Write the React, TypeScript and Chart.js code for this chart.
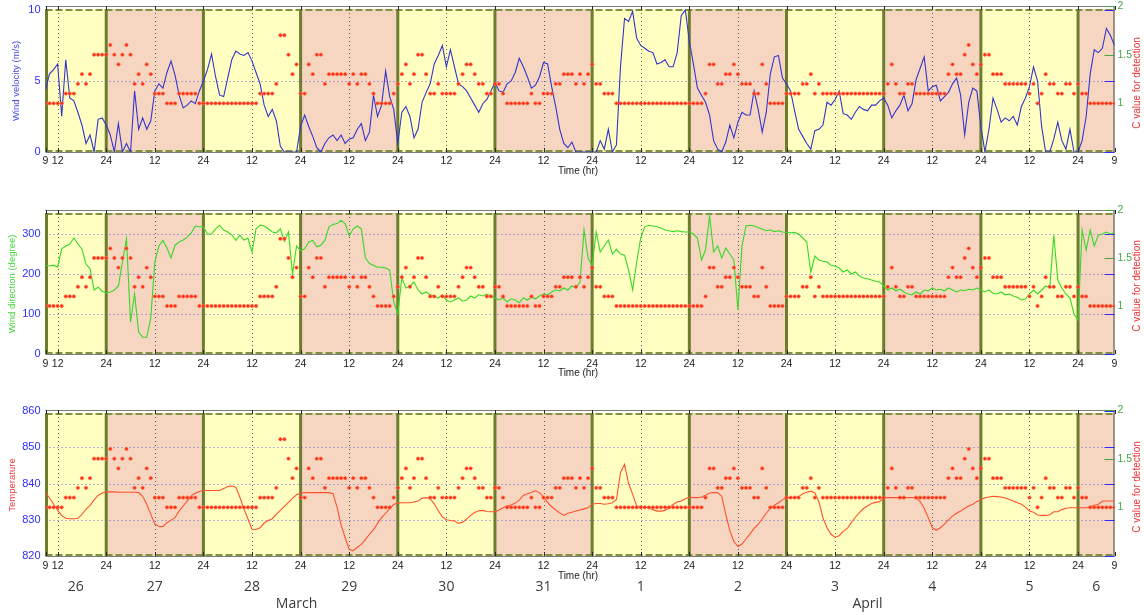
import React, { useEffect, useRef } from "react";
import { Chart, registerables } from "chart.js";

Chart.register(...registerables);

// Hours are counted from 26 March 09:00; the record ends on 6 April 09:00.
const HOUR_MAX = 264;

// Day bands (edges in hours) and their labels
const dayEdges = [0, 15, 39, 63, 87, 111, 135, 159, 183, 207, 231, 255, 264];
const dayLabels = ["26", "27", "28", "29", "30", "31", "1", "2", "3", "4", "5", "6"];
const monthLabels = ["March", "April"];
const monthAtHour = [62, 203];

// Time axis ticks
const tickHours = [0, 3, 15, 27, 39, 51, 63, 75, 87, 99, 111, 123, 135, 147, 159, 171, 183, 195, 207, 219, 231, 243, 255, 264];
const tickText = ["9", "12", "24", "12", "24", "12", "24", "12", "24", "12", "24", "12", "24", "12", "24", "12", "24", "12", "24", "12", "24", "12", "24", "9"];

// Hourly wind velocity (m/s)
const windSpeed = [
  4.4, 5.5, 5.8, 6.2, 2.5, 6.5, 3.8, 3.6, 2.8, 1.9, 0.6, 1.2, 0, 2.3, 2.4,
  1.9, 1.2, 0, 2.0, 0, 0.6, 0, 4.3, 1.6, 2.4, 1.6, 2.2, 4.3, 4.8, 4.5, 5.6, 6.4, 5.4, 4.0, 3.1, 3.3, 3.6, 3.4, 4.3,
  5.0, 5.8, 6.9, 5.3, 4.0, 3.9, 5.2, 6.5, 7.1, 6.9, 6.8, 7.0, 6.4, 5.6, 4.8, 3.3, 2.5, 3.0, 2.2, 0.4, 0, 0, 0, 0,
  1.8, 2.6, 1.8, 1.1, 0.3, 0, 0.6, 1.0, 1.2, 0.8, 1.2, 0.6, 0.9, 1.0, 1.6, 2.0, 0.8, 1.4, 4.0, 2.5, 3.3, 5.7, 3.9, 3.0,
  0.6, 2.8, 3.2, 2.5, 1.0, 1.6, 3.5, 4.2, 4.8, 6.2, 6.8, 7.5, 6.0, 7.2, 6.0, 4.8, 4.6, 4.3, 3.8, 3.3, 2.8, 3.4, 3.7, 4.3,
  4.9, 4.3, 4.2, 4.8, 5.0, 5.6, 6.6, 6.0, 5.3, 4.5, 4.7, 5.3, 6.3, 6.2, 4.6, 3.2, 1.6, 0.6, 0.3, 0.7, 0, 0, 0, 0,
  0, 0, 0.8, 0.2, 1.6, 0, 0.5, 6.0, 9.4, 9.2, 9.9, 8.0, 7.5, 7.3, 7.1, 7.0, 6.2, 6.3, 6.5, 6.0, 6.0, 7.0, 9.6, 10,
  7.8, 6.2, 4.5, 4.0, 3.5, 2.6, 0.8, 0.2, 0, 0.7, 1.9, 1.0, 2.1, 2.8, 2.6, 2.6, 4.3, 3.0, 1.4, 2.8, 5.5, 6.7, 6.8, 5.2,
  4.8, 4.3, 2.9, 1.6, 1.1, 0.6, 0.2, 1.5, 1.6, 1.9, 3.5, 3.3, 3.7, 4.3, 2.7, 2.6, 2.3, 2.8, 3.2, 3.0, 2.9, 3.3, 3.3, 3.6,
  3.8, 3.3, 2.4, 2.9, 3.3, 4.0, 2.9, 3.4, 5.1, 5.9, 6.7, 4.3, 4.6, 4.7, 3.6, 3.9, 4.2, 4.8, 5.2, 4.0, 1.2, 3.5, 4.5, 4.3,
  1.8, 0, 1.6, 3.8, 3.0, 2.1, 2.4, 2.2, 2.5, 1.9, 3.2, 3.8, 4.6, 6.0, 5.0, 1.8, 0, 0, 0.9, 2.1, 0.8, 0.2, 1.6, 0,
  0, 0.8, 2.5, 5.5, 7.2, 7.0, 7.3, 8.7, 8.2, 7.5,
];

// Hourly wind direction (degree)
const windDirection = [
  222, 220, 222, 217, 263, 270, 275, 290, 275, 262, 225, 213, 160, 167, 157,
  152, 155, 160, 170, 230, 288, 80, 150, 55, 42, 42, 90, 230, 270, 284, 265, 240, 272, 280, 285, 292, 303, 320, 318,
  318, 300, 300, 313, 322, 310, 305, 298, 284, 297, 285, 290, 255, 313, 322, 320, 313, 305, 303, 313, 282, 305, 200, 270,
  258, 263, 280, 284, 268, 272, 284, 318, 324, 326, 334, 326, 295, 313, 320, 313, 240, 226, 222, 217, 217, 215, 210, 130,
  100, 190, 165, 170, 180, 160, 150, 155, 148, 145, 140, 148, 135, 130, 135, 140, 132, 135, 145, 140, 148, 145, 150, 145,
  140, 135, 140, 130, 138, 135, 128, 140, 135, 142, 138, 145, 150, 148, 155, 160, 158, 165, 160, 170, 165, 180, 310, 240,
  220, 305, 255, 270, 285, 250, 262, 250, 247, 210, 160, 230, 290, 318, 322, 320, 318, 315, 310, 308, 306, 308, 306, 305,
  305, 300, 290, 235, 260, 345, 255, 270, 240, 265, 250, 235, 110, 270, 320, 322, 320, 316, 312, 308, 310, 306, 308, 305,
  304, 303, 304, 300, 290, 280, 205, 245, 235, 232, 230, 222, 220, 215, 205, 210, 200, 205, 195, 190, 188, 185, 182, 180,
  170, 160, 165, 158, 162, 155, 150, 148, 155, 150, 160, 158, 165, 160, 162, 158, 165, 160, 155, 160, 158, 162, 160, 165,
  160, 155, 160, 152, 150, 155, 148, 150, 145, 142, 135, 138, 150, 160, 150, 160, 170, 165, 297, 184, 165, 150, 140, 100,
  85, 310, 260, 310, 270, 297, 300, 305, 300, 304,
];

// Hourly temperature reading
const temperature = [
  837.5, 836, 834.3, 832.6, 831.2, 830.4, 830.3, 830.3, 830.4, 831.5, 832.9, 834, 835.5, 836.7, 837.4,
  837.7, 837.7, 837.7, 837.6, 837.6, 837.6, 837.6, 837.6, 837.5, 836.5, 834.3, 831.5, 828.8, 828.2, 828.1, 829.2, 829.9, 830.6, 832.4, 833.8, 835.2, 836.6, 837.3, 837.8,
  838.1, 838.1, 838.1, 838.1, 838.1, 838.6, 839.2, 839.3, 839, 836.2, 833, 830.2, 827.4, 827.3, 827.8, 829.1, 829.8, 830.3, 831.5, 832.6, 833.7, 834.8, 835.9, 836.9,
  837.4, 837.5, 837.5, 837.5, 837.5, 837.5, 837.5, 837.5, 837.2, 833.5, 828.5, 825.1, 821.8, 821.5, 822.4, 823.2, 824.5, 826, 827.3, 829, 830.6, 831.8, 833.1, 834.2,
  834.6, 834.7, 834.7, 834.7, 834.9, 835.2, 835.9, 836.1, 835.8, 834.4, 832.5, 830.8, 830, 829.8, 829.7, 829, 829.3, 830.2, 831.2, 832, 832.5, 832.6, 832.3, 832.2,
  832.2, 832.7, 833.3, 833.8, 834.1, 834.6, 835.4, 836.7, 837.2, 837.5, 838, 837.5, 836.2, 834.8, 833.6, 832.7, 831.9, 831.2, 831.8, 832.1, 832.4, 832.7, 833, 833.3,
  834.3, 834.5, 834.5, 834.3, 834.4, 834.7, 835.6, 843, 845.3, 840, 837, 833.8, 833.6, 833.5, 833.3, 832.8, 832.4, 832.4, 832.6, 833.3, 834.2, 834.9, 835.2, 835.8,
  836.2, 836.1, 836.1, 836.3, 836.8, 837.4, 837.5, 837.5, 836.5, 831.5, 827, 824, 822.6, 823.3, 824.7, 826.1, 827.6, 828.7, 830.2, 831.8, 833.2, 834, 834.7, 835.5,
  836.1, 836.1, 836.1, 836.4, 837.2, 837.6, 837.9, 837.4, 835, 830.5, 827.8, 826, 825.2, 825.6, 826.8, 827.6, 829.2, 830.7, 832, 833.1, 833.8, 834.5, 834.8, 835,
  836.1, 836.1, 836.1, 836.1, 836.1, 836.1, 836.1, 836.1, 836.1, 835, 833.2, 830.6, 827.8, 827.1, 827.8, 828.8, 830, 831, 831.8, 832.4, 833.2, 833.8, 834.3, 835,
  835.6, 836.1, 836.3, 836.5, 836.4, 836.3, 836, 835.6, 835.2, 834.7, 834.3, 833.5, 832.4, 832.1, 831.3, 831.2, 831.2, 831.4, 832.2, 832.2, 832.8, 833.2, 833.3, 833.3,
  833.3, 833.3, 833.3, 833.6, 834, 834.3, 835.1, 835.2, 835.2, 835.2,
];

// Hourly C value for detection (shared by all three panels)
const cValue = [
  1.0, 1.0, 1.0, 1.0, 1.0, 1.1, 1.1, 1.1, 1.2, 1.3, 1.2, 1.3, 1.5, 1.5, 1.5,
  1.5, 1.6, 1.5, 1.4, 1.5, 1.6, 1.5, 1.2, 1.3, 1.2, 1.4, 1.3, 1.1, 1.1, 1.1, 1.0, 1.0, 1.0, 1.1, 1.1, 1.1, 1.1, 1.1, 1.0,
  1.0, 1.0, 1.0, 1.0, 1.0, 1.0, 1.0, 1.0, 1.0, 1.0, 1.0, 1.0, 1.0, 1.0, 1.1, 1.1, 1.1, 1.1, 1.2, 1.7, 1.7, 1.5, 1.3, 1.4,
  1.1, 1.1, 1.4, 1.3, 1.5, 1.5, 1.2, 1.3, 1.3, 1.3, 1.3, 1.3, 1.2, 1.3, 1.2, 1.3, 1.3, 1.2, 1.1, 1.0, 1.0, 1.0, 1.0, 1.1,
  1.2, 1.3, 1.4, 1.2, 1.3, 1.5, 1.5, 1.3, 1.1, 1.1, 1.2, 1.1, 1.1, 1.1, 1.1, 1.2, 1.3, 1.4, 1.4, 1.3, 1.2, 1.2, 1.1, 1.1,
  1.2, 1.2, 1.1, 1.0, 1.0, 1.0, 1.0, 1.0, 1.0, 1.1, 1.0, 1.0, 1.1, 1.1, 1.1, 1.2, 1.2, 1.3, 1.3, 1.3, 1.2, 1.3, 1.2, 1.3,
  1.4, 1.2, 1.2, 1.1, 1.1, 1.1, 1.0, 1.0, 1.0, 1.0, 1.0, 1.0, 1.0, 1.0, 1.0, 1.0, 1.0, 1.0, 1.0, 1.0, 1.0, 1.0, 1.0, 1.0,
  1.0, 1.0, 1.0, 1.0, 1.1, 1.4, 1.4, 1.2, 1.2, 1.3, 1.3, 1.4, 1.3, 1.2, 1.2, 1.2, 1.1, 1.1, 1.4, 1.2, 1.0, 1.0, 1.0, 1.0,
  1.1, 1.1, 1.1, 1.1, 1.2, 1.2, 1.3, 1.1, 1.2, 1.1, 1.1, 1.1, 1.1, 1.1, 1.1, 1.1, 1.1, 1.1, 1.1, 1.1, 1.1, 1.1, 1.1, 1.1,
  1.1, 1.2, 1.4, 1.2, 1.1, 1.1, 1.2, 1.2, 1.1, 1.1, 1.1, 1.1, 1.1, 1.1, 1.1, 1.1, 1.3, 1.4, 1.3, 1.3, 1.5, 1.6, 1.4, 1.3,
  1.4, 1.5, 1.5, 1.3, 1.3, 1.3, 1.2, 1.2, 1.2, 1.2, 1.2, 1.2, 1.1, 1.2, 1.0, 1.1, 1.3, 1.2, 1.2, 1.1, 1.1, 1.2, 1.2, 1.1,
  1.2, 1.1, 1.1, 1.0, 1.0, 1.0, 1.0, 1.0, 1.0, 1.0,
];

const cTicks = [1, 1.5, 2];

const BAND_FILL = ["rgb(255,255,194)", "rgb(246,214,192)"];
const OLIVE = "rgb(108,126,46)";
const OLIVE_LIGHT = "rgb(128,146,66)";
const LEFT_TICK_BLUE = "rgb(45,45,255)";
const RIGHT_GREEN = "rgb(70,165,70)";
const C_RED = "rgb(255,40,30)";
const FONT = "'Liberation Sans', Arial, sans-serif";

type PanelCfg = {
  id: string;
  top: number;
  height: number;
  plotTop: number;
  plotBottom: number;
  values: number[];
  lineColor: string;
  yMin: number;
  yMax: number;
  yTicks: number[];
  yGrid: number[];
  title: string;
  titleColor: string;
  titleX: number;
  xPad: number;
  timeLabelY: number;
  showDays: boolean;
};

const panels: PanelCfg[] = [
  {
    id: "speed", top: 0, height: 190, plotTop: 6, plotBottom: 152,
    values: windSpeed, lineColor: "rgb(52,52,205)",
    yMin: 0, yMax: 10.28, yTicks: [0, 5, 10], yGrid: [5],
    title: "Wind velocity (m/s)", titleColor: "rgb(70,70,235)", titleX: 16,
    xPad: 3, timeLabelY: 171, showDays: false,
  },
  {
    id: "direction", top: 195, height: 190, plotTop: 15, plotBottom: 159,
    values: windDirection, lineColor: "rgb(55,215,40)",
    yMin: 0, yMax: 360, yTicks: [0, 100, 200, 300], yGrid: [100, 200, 300],
    title: "Wind direction (degree)", titleColor: "rgb(70,215,60)", titleX: 12,
    xPad: 4, timeLabelY: 178, showDays: false,
  },
  {
    id: "temperature", top: 395, height: 220, plotTop: 15, plotBottom: 161,
    values: temperature, lineColor: "rgb(255,80,45)",
    yMin: 820, yMax: 860.3, yTicks: [820, 830, 840, 850, 860], yGrid: [830, 840, 850],
    title: "Temperature", titleColor: "rgb(240,60,60)", titleX: 12,
    xPad: 4, timeLabelY: 181, showDays: true,
  },
];

function verticalText(ctx: CanvasRenderingContext2D, text: string, x: number, y: number, color: string, font: string) {
  ctx.save();
  ctx.translate(x, y);
  ctx.rotate(-Math.PI / 2);
  ctx.textAlign = "center";
  ctx.textBaseline = "middle";
  ctx.fillStyle = color;
  ctx.font = font;
  ctx.fillText(text, 0, 0);
  ctx.restore();
}

function makeDecor(cfg: PanelCfg) {
  return {
    id: "panelDecor",
    beforeDatasetsDraw(chart: any) {
      const { ctx, chartArea: a, scales } = chart;
      const x = scales.x;
      const y = scales.y;
      const yr = scales.yR;
      const bandTop = a.top + 3;
      ctx.save();

      // day bands
      for (let i = 0; i < dayEdges.length - 1; i++) {
        const x0 = x.getPixelForValue(dayEdges[i]);
        const x1 = x.getPixelForValue(dayEdges[i + 1]);
        ctx.fillStyle = BAND_FILL[i % 2];
        ctx.fillRect(x0, bandTop, x1 - x0, a.bottom - bandTop);
      }

      // dotted horizontal grid
      ctx.lineWidth = 1;
      ctx.setLineDash([1, 3]);
      ctx.strokeStyle = "rgb(105,105,235)";
      for (const v of cfg.yGrid) {
        const py = Math.round(y.getPixelForValue(v)) + 0.5;
        ctx.beginPath();
        ctx.moveTo(a.left, py);
        ctx.lineTo(a.right, py);
        ctx.stroke();
      }

      // dotted vertical grid at noon
      ctx.strokeStyle = "rgba(70,70,70,0.85)";
      tickHours.forEach((h, i) => {
        if (tickText[i] !== "12") return;
        const px = Math.round(x.getPixelForValue(h)) + 0.5;
        ctx.beginPath();
        ctx.moveTo(px, bandTop);
        ctx.lineTo(px, a.bottom);
        ctx.stroke();
      });

      // band outlines: dashed top and bottom, heavy day separators
      ctx.setLineDash([7, 3]);
      ctx.lineWidth = 2;
      ctx.strokeStyle = OLIVE_LIGHT;
      ctx.beginPath();
      ctx.moveTo(a.left, bandTop + 1);
      ctx.lineTo(a.right, bandTop + 1);
      ctx.moveTo(a.left, a.bottom - 1);
      ctx.lineTo(a.right, a.bottom - 1);
      ctx.stroke();
      ctx.setLineDash([]);
      ctx.lineWidth = 3;
      ctx.strokeStyle = OLIVE;
      for (let i = 0; i < dayEdges.length - 1; i++) {
        const px = x.getPixelForValue(dayEdges[i]) + (i === 0 ? 1 : 0);
        ctx.beginPath();
        ctx.moveTo(px, bandTop);
        ctx.lineTo(px, a.bottom);
        ctx.stroke();
      }

      // axis box
      ctx.lineWidth = 1;
      ctx.strokeStyle = "rgb(125,125,125)";
      ctx.beginPath();
      ctx.moveTo(a.left, a.top + 0.5);
      ctx.lineTo(a.right, a.top + 0.5);
      ctx.moveTo(a.left, a.bottom + 0.5);
      ctx.lineTo(a.right, a.bottom + 0.5);
      ctx.stroke();
      ctx.strokeStyle = "rgb(70,70,70)";
      ctx.beginPath();
      ctx.moveTo(a.right - 0.5, a.top);
      ctx.lineTo(a.right - 0.5, a.bottom);
      ctx.stroke();

      // time ticks on top and bottom edges
      ctx.strokeStyle = "rgb(40,40,40)";
      ctx.beginPath();
      for (const h of tickHours) {
        const px = Math.round(x.getPixelForValue(h)) + 0.5;
        ctx.moveTo(px, a.top);
        ctx.lineTo(px, a.top + 4);
        ctx.moveTo(px, a.bottom);
        ctx.lineTo(px, a.bottom - 4);
      }
      ctx.stroke();

      // left-axis ticks mirrored on the right edge, then the C-axis ticks
      ctx.strokeStyle = LEFT_TICK_BLUE;
      ctx.beginPath();
      for (const v of cfg.yTicks) {
        const py = Math.round(y.getPixelForValue(v)) + 0.5;
        ctx.moveTo(a.right - 10, py);
        ctx.lineTo(a.right, py);
      }
      ctx.stroke();
      ctx.strokeStyle = RIGHT_GREEN;
      ctx.beginPath();
      for (const v of cTicks) {
        const py = Math.round(yr.getPixelForValue(v)) + 0.5;
        ctx.moveTo(a.right - 10, py);
        ctx.lineTo(a.right, py);
      }
      ctx.stroke();
      ctx.restore();
    },
    afterDraw(chart: any) {
      const { ctx, chartArea: a, scales } = chart;
      const x = scales.x;
      const midY = (a.top + a.bottom) / 2;
      verticalText(ctx, cfg.title, cfg.titleX, midY + 2, cfg.titleColor, `9.5px ${FONT}`);
      verticalText(ctx, "C value for detection", 1137, midY + 4, "rgb(240,50,50)", `10px ${FONT}`);
      ctx.save();
      ctx.fillStyle = "#222";
      ctx.font = `10px ${FONT}`;
      ctx.textAlign = "center";
      ctx.textBaseline = "middle";
      ctx.fillText("Time (hr)", 578, cfg.timeLabelY);
      if (cfg.showDays) {
        ctx.font = "14px 'Open Sans', 'Noto Sans', sans-serif";
        ctx.fillStyle = "#3a3a3a";
        for (let i = 0; i < dayLabels.length; i++) {
          const cx = (x.getPixelForValue(dayEdges[i]) + x.getPixelForValue(dayEdges[i + 1])) / 2;
          ctx.fillText(dayLabels[i], cx, 192);
        }
        monthLabels.forEach((m, i) => {
          ctx.fillText(m, x.getPixelForValue(monthAtHour[i]), 209);
        });
      }
      ctx.restore();
    },
  };
}

function Panel({ cfg }: { cfg: PanelCfg }) {
  const ref = useRef<HTMLCanvasElement | null>(null);

  useEffect(() => {
    if (!ref.current) return;
    const xHeight = cfg.height - cfg.plotBottom;
    const chart = new Chart(ref.current, {
      type: "line",
      data: {
        datasets: [
          {
            label: "C value",
            data: cValue.map((v, i) => ({ x: i, y: v })),
            yAxisID: "yR",
            showLine: false,
            pointRadius: 1.7,
            pointBackgroundColor: C_RED,
            pointBorderColor: "rgba(255,120,70,0.85)",
            pointBorderWidth: 0.8,
          },
          {
            label: cfg.title,
            data: cfg.values.map((v, i) => ({ x: i, y: v })),
            yAxisID: "y",
            borderColor: cfg.lineColor,
            borderWidth: 1.1,
            pointRadius: 0,
            tension: 0,
          },
        ],
      },
      options: {
        responsive: false,
        maintainAspectRatio: false,
        animation: false,
        layout: { padding: { top: cfg.plotTop, left: 0, right: 0, bottom: 0 } },
        plugins: { legend: { display: false }, tooltip: { enabled: false } },
        scales: {
          x: {
            type: "linear",
            min: 0,
            max: HOUR_MAX,
            afterBuildTicks: (s: any) => {
              s.ticks = tickHours.map((v) => ({ value: v }));
            },
            afterFit: (s: any) => {
              s.height = xHeight;
              s.paddingLeft = 0;
              s.paddingRight = 0;
            },
            ticks: {
              autoSkip: false,
              maxRotation: 0,
              minRotation: 0,
              padding: cfg.xPad,
              color: "#222",
              font: { family: FONT, size: 10.5 },
              callback: (_v: any, i: number) => tickText[i] ?? "",
            },
            grid: { display: false, drawTicks: false },
            border: { display: false },
          },
          y: {
            position: "left",
            min: cfg.yMin,
            max: cfg.yMax,
            afterBuildTicks: (s: any) => {
              s.ticks = cfg.yTicks.map((v) => ({ value: v }));
            },
            afterFit: (s: any) => {
              s.width = 45.5;
              s.paddingTop = 0;
              s.paddingBottom = 0;
            },
            ticks: {
              padding: 5,
              color: LEFT_TICK_BLUE,
              font: { family: FONT, size: 11 },
              callback: (v: any) => String(v),
            },
            grid: { display: false, drawTicks: false },
            border: { display: false },
          },
          yR: {
            position: "right",
            min: 0.5,
            max: 2,
            afterBuildTicks: (s: any) => {
              s.ticks = cTicks.map((v) => ({ value: v }));
            },
            afterFit: (s: any) => {
              s.width = 29.5;
              s.paddingTop = 0;
              s.paddingBottom = 0;
            },
            ticks: {
              padding: 3,
              color: RIGHT_GREEN,
              font: { family: FONT, size: 10.5 },
              callback: (v: any) => String(v),
            },
            grid: { display: false, drawTicks: false },
            border: { display: false },
          },
        },
      },
      plugins: [makeDecor(cfg)],
    } as any);
    return () => chart.destroy();
  }, [cfg]);

  return (
    <canvas
      ref={ref}
      width={1144}
      height={cfg.height}
      style={{ position: "absolute", left: 0, top: cfg.top, display: "block" }}
    />
  );
}

export default function App() {
  return (
    <div style={{ position: "absolute", left: 0, top: 0, width: 1144, height: 615, background: "#fff", overflow: "hidden" }}>
      {panels.map((p) => (
        <Panel key={p.id} cfg={p} />
      ))}
    </div>
  );
}
